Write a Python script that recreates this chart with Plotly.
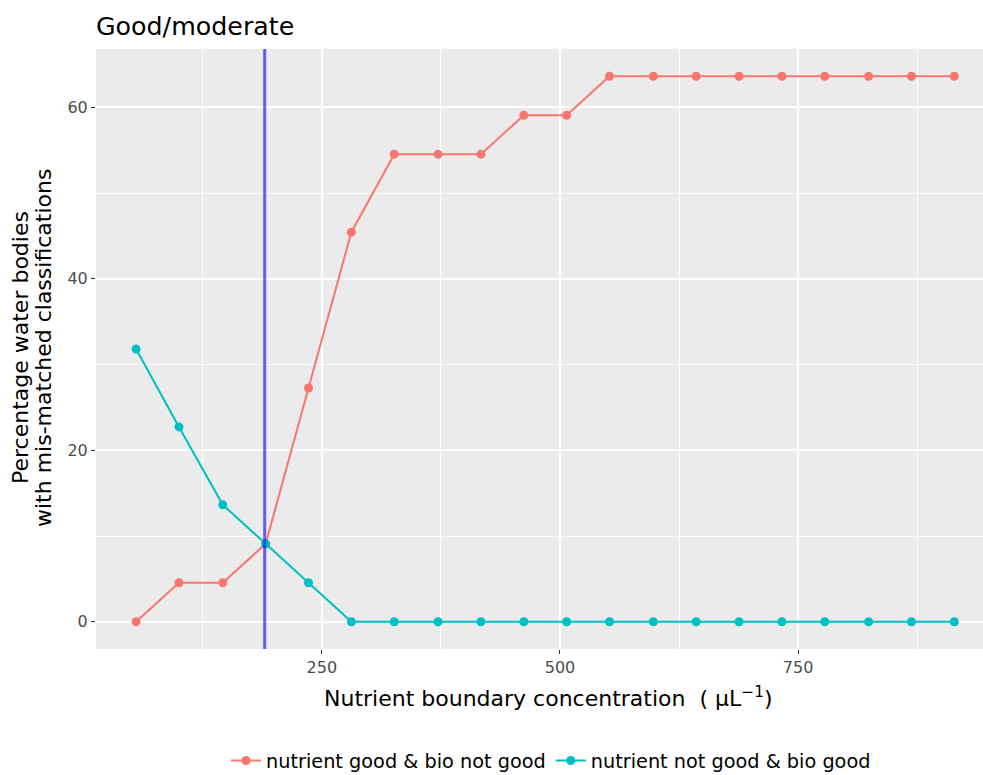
import plotly.graph_objects as go

concentration = [55, 100, 146, 191, 236, 281, 326, 372, 417, 462,
                 507, 552, 598, 643, 688, 733, 778, 824, 869, 914]
nutrient_good_bio_not = [0, 4.55, 4.55, 9.09, 27.27, 45.45, 54.55, 54.55, 54.55, 59.09,
                         59.09, 63.64, 63.64, 63.64, 63.64, 63.64, 63.64, 63.64, 63.64, 63.64]
nutrient_not_bio_good = [31.82, 22.73, 13.64, 9.09, 4.55, 0, 0, 0, 0, 0,
                         0, 0, 0, 0, 0, 0, 0, 0, 0, 0]
series_names = ["nutrient good & bio not good", "nutrient not good & bio good"]
series_colors = ["#F8766D", "#00BFC4"]
boundary = 190
x_ticks = [250, 500, 750]
y_ticks = [0, 20, 40, 60]
y_title_lines = ["Percentage water bodies", "with mis-matched classifications"]
x_title = "Nutrient boundary concentration  ( µL<sup>−1</sup>)"
chart_title = "Good/moderate"

FONT = "DejaVu Sans"
W, H = 983, 775
ML, MR, MT, MB = 96, 0, 49, 126
PW, PH = W - ML - MR, H - MT - MB

fig = go.Figure()
for name, vals, col in zip(series_names, [nutrient_good_bio_not, nutrient_not_bio_good], series_colors):
    fig.add_trace(go.Scatter(
        x=concentration, y=vals, mode="lines+markers", name=name,
        line=dict(color=col, width=2),
        marker=dict(color=col, size=9),
    ))

fig.add_vline(x=boundary, line=dict(color="rgba(0,0,255,0.6)", width=3), layer="above")

fig.add_annotation(text=x_title, xref="paper", yref="paper",
                   x=(548 - ML) / PW, y=(H - MB - 697) / PH,
                   xanchor="center", yanchor="middle", showarrow=False,
                   font=dict(size=22, color="black", family=FONT))
for cx, line in zip([20, 43], y_title_lines):
    fig.add_annotation(text=line, xref="paper", yref="paper",
                       x=(cx - ML) / PW, y=(H - MB - 348) / PH, textangle=-90,
                       xanchor="center", yanchor="middle", showarrow=False,
                       font=dict(size=22, color="black", family=FONT))

fig.update_layout(
    width=W, height=H,
    margin=dict(l=ML, r=MR, t=MT, b=MB, autoexpand=False),
    paper_bgcolor="white", plot_bgcolor="#EBEBEB",
    font=dict(family=FONT, color="black"),
    title=dict(text=chart_title, x=ML / W, xanchor="left", xref="container",
               y=1 - 26 / H, yanchor="middle", yref="container",
               font=dict(size=25.3, color="black", family=FONT)),
    showlegend=True,
    legend=dict(orientation="h", x=(551 - ML) / PW, xanchor="center",
                y=(H - MB - 761) / PH, yanchor="middle",
                font=dict(size=19.3, color="black", family=FONT),
                itemwidth=30, tracegroupgap=0),
)

fig.update_xaxes(
    range=[12.9, 944.1], tickvals=x_ticks, ticktext=[str(v) for v in x_ticks],
    showgrid=True, gridcolor="white", gridwidth=1.6, zeroline=False,
    minor=dict(dtick=125, tick0=0, showgrid=True, gridcolor="white", gridwidth=0.7, ticks=""),
    ticks="outside", ticklen=4, tickcolor="#333333", tickwidth=1.2,
    tickfont=dict(size=16, color="#4D4D4D", family=FONT),
    showline=False, automargin=False,
)
fig.update_yaxes(
    range=[-3.18, 66.82], tickvals=y_ticks, ticktext=[str(v) for v in y_ticks],
    showgrid=True, gridcolor="white", gridwidth=1.6, zeroline=False,
    minor=dict(dtick=10, tick0=0, showgrid=True, gridcolor="white", gridwidth=0.7, ticks=""),
    ticks="outside", ticklen=4, tickcolor="#333333", tickwidth=1.2,
    tickfont=dict(size=16, color="#4D4D4D", family=FONT),
    showline=False, automargin=False,
)

fig.write_html("out.html")
